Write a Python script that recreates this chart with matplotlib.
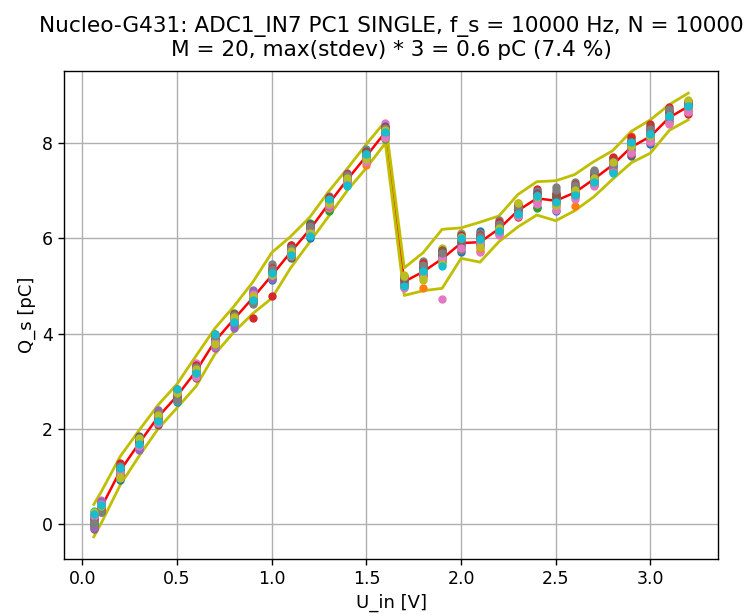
import numpy as np
from matplotlib import pyplot as plt

# input voltages [V]
u_in = [0.06, 0.1, 0.2, 0.3, 0.4, 0.5, 0.6, 0.7, 0.8, 0.9, 1.0,
        1.1, 1.2, 1.3, 1.4, 1.5, 1.6, 1.7, 1.8, 1.9, 2.0, 2.1,
        2.2, 2.3, 2.4, 2.5, 2.6, 2.7, 2.8, 2.9, 3.0, 3.1, 3.2]

# mean charge [pC] (red line)
q_mean = [0.07, 0.35, 1.12, 1.70, 2.25, 2.69, 3.21, 3.84, 4.30, 4.75, 5.22,
          5.71, 6.18, 6.72, 7.24, 7.73, 8.23, 5.09, 5.30, 5.57, 5.90, 5.92,
          6.20, 6.58, 6.84, 6.79, 6.96, 7.24, 7.54, 7.92, 8.14, 8.54, 8.77]

# 3 * stdev [pC] (yellow band half width)
q_3sd = [0.34, 0.33, 0.30, 0.27, 0.25, 0.25, 0.32, 0.27, 0.27, 0.33, 0.48,
         0.33, 0.26, 0.26, 0.23, 0.25, 0.23, 0.29, 0.40, 0.62, 0.32, 0.42,
         0.27, 0.34, 0.35, 0.42, 0.38, 0.37, 0.30, 0.33, 0.35, 0.27, 0.28]

# single measurements, deviation from mean in 0.01 pC (rows: u_in, cols: run 1..20)
q_dev = [
    [-5, 10, 3, -12, 8, -18, 2, -8, 15, 20, -3, 6, -10, 12, -15, 4, 9, -6, 18, 14],
    [-10, 8, -4, 12, 6, -8, 15, 3, -2, 10, 5, -6, 9, -3, 14, 0, 7, -9, 2, 4],
    [-20, 5, -8, 17, 2, -12, 6, -4, -15, 10, 8, -6, 0, 12, -10, 4, -2, 9, -14, 6],
    [7, -5, 2, 10, -14, 15, -10, 4, 8, -3, 12, -8, 0, 6, -12, 3, -6, 9, 11, -2],
    [5, -8, 10, -4, 2, -18, 6, 12, 14, -6, 8, 0, -10, 4, 15, -2, -12, 9, 3, -8],
    [-12, 6, 2, -8, 10, 4, -4, 12, 8, -10, 0, 5, -6, 14, 3, -2, 9, -9, 6, 15],
    [-10, 4, -6, 8, 2, -14, 18, 6, 0, -4, 10, -8, 3, 12, -2, 6, -12, 8, 4, -3],
    [-12, 6, 10, -4, -15, 4, -10, 8, 12, -6, 2, 9, -2, 14, -8, 5, 0, 11, -5, 15],
    [-8, 12, 14, 4, -18, 10, -6, 6, 2, -10, 8, -4, 0, 12, -12, 3, -2, 9, 5, -6],
    [-6, 10, 8, -42, 4, -10, 2, 14, 12, -4, 6, 0, -8, 10, 16, -2, 8, -12, 3, -5],
    [-10, 4, 8, -44, 14, -6, 20, 24, 10, 2, 12, -4, 6, 16, -8, 8, 0, 14, 2, 6],
    [-12, 4, 16, -6, 8, -10, 2, 12, -4, 6, 10, -8, 0, 14, -2, 4, -6, 9, 3, -5],
    [-18, 8, 14, 4, -6, 10, -12, 6, 0, -4, 12, -8, 2, 10, -10, 5, -2, 8, -6, -14],
    [-10, 4, -14, 6, 2, 12, -8, 16, 6, 0, 10, -6, 4, 14, -4, 8, -2, 9, 3, 10],
    [-6, 8, 2, 10, 14, -10, 4, 12, -4, -14, 6, -8, 0, 12, -2, 8, -6, 9, 3, -12],
    [-8, -18, 6, 10, 2, -6, 4, 14, 0, 12, -10, 6, -4, 10, -2, 8, -12, 5, -6, 4],
    [-10, 4, -14, 8, 10, 2, 20, -6, 6, -2, 12, -8, 0, 10, -4, 6, -12, 8, 4, 0],
    [-12, 4, -10, 8, 2, -6, 10, 12, 14, -4, 6, -8, 0, 10, -2, 4, -14, 9, 12, -10],
    [-6, -35, 2, 10, 6, 16, -4, 22, -18, 8, 12, -10, 4, 18, -6, 10, 0, 14, -14, 2],
    [4, 10, -6, 16, 12, 20, -85, 8, 22, -4, 6, -2, 14, 10, 0, 18, 2, 12, -10, -16],
    [-18, 22, 8, -4, 14, 2, 6, -14, 10, 20, -8, 12, 0, 16, -2, 4, -10, 8, 12, 10],
    [24, -18, 6, 14, 10, -4, -20, 20, -8, 2, 8, -12, 4, 16, -6, 10, 0, 12, -10, 6],
    [-8, 6, 12, 4, -4, 10, -6, 18, 2, -2, 8, -10, 0, 14, -4, 6, -12, 10, 2, -4],
    [-10, 16, 4, -14, 8, 2, -6, 12, 14, -4, 10, -8, 0, 12, -2, 6, -12, 8, 16, -6],
    [-18, 10, -20, 20, 4, 14, -8, 16, 8, -2, 12, -6, 0, 10, -4, 6, -12, 8, 2, 4],
    [-22, 6, 8, 10, 2, 14, -20, 28, -6, 4, 12, -10, 0, 16, -4, 8, -14, 22, -8, -2],
    [-8, -28, 6, 10, 2, 14, -6, 22, 4, -2, 12, -10, 0, 18, -4, 8, -14, 16, 6, -4],
    [-10, 6, -12, 4, 10, 8, 14, 20, -4, -2, 12, -8, 0, 16, -6, 6, -14, 18, 2, -6],
    [-4, 6, -10, 10, 4, -12, 12, 8, 2, -6, 14, -8, 0, 16, -2, 8, -14, 4, 6, -16],
    [-20, 22, 6, 10, 2, 14, 6, -4, 16, 0, 12, -10, 4, 20, -6, -16, -12, 8, 2, 10],
    [-16, 4, 6, 26, 2, 22, -8, 12, -4, 0, 14, -10, 4, 18, -6, 8, -12, 16, 2, 6],
    [-8, 6, 4, 22, 2, 12, -4, 16, 8, -10, 10, -12, 0, 14, -2, 6, -14, 18, 4, 2],
    [-10, 6, 4, -16, 2, 8, 12, 6, -4, 0, 10, -8, 4, 12, -2, 6, -12, 8, 14, 2],
]

u = np.array(u_in)
qm = np.array(q_mean)
q3 = np.array(q_3sd)
dev = np.array(q_dev) / 100.0

fig = plt.figure(figsize=(7.49, 6.14), dpi=100)
ax = fig.add_axes([0.0855, 0.0896, 0.8731, 0.7948])

ax.plot(u, qm, 'r', lw=1.8)
ax.plot(u, qm + q3, 'y', lw=2)
ax.plot(u, qm - q3, 'y', lw=2)
for m in range(dev.shape[1]):
    ax.plot(u, qm + dev[:, m], '.', ms=10)

ax.grid(True, color='#b0b0b0', lw=1.0)
ax.tick_params(labelsize=12.5, length=4.5, width=1.0)
for s in ax.spines.values():
    s.set_linewidth(1.0)
ax.set_xlabel('U_in [V]', fontsize=13)
ax.set_ylabel('Q_s [pC]', fontsize=13)
ax.set_title('Nucleo-G431: ADC1_IN7 PC1 SINGLE, f_s = 10000 Hz, N = 10000\n'
             'M = 20, max(stdev) * 3 = 0.6 pC (7.4 %)',
             fontsize=15.6, pad=11)

fig.savefig('out.png', dpi=100)
